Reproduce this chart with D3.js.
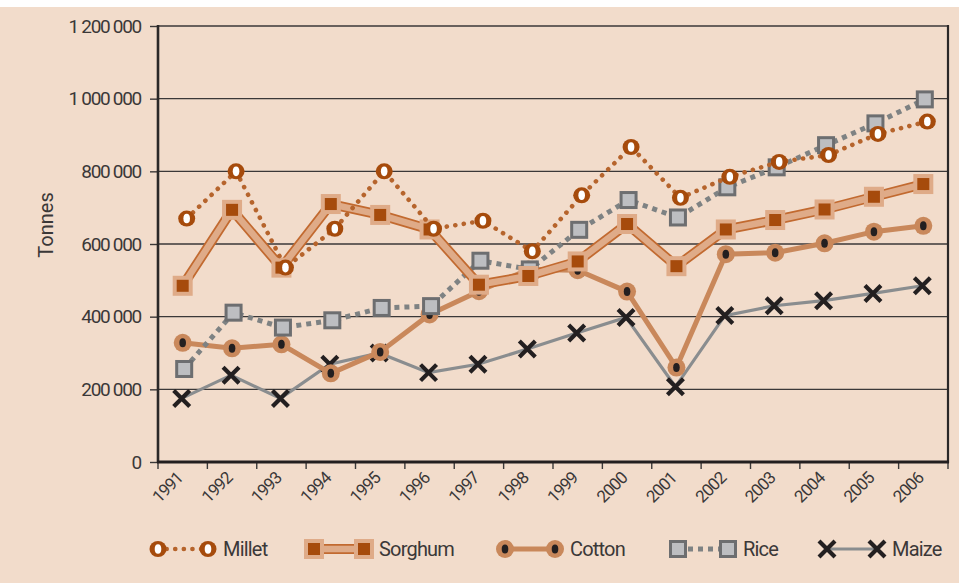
<!DOCTYPE html>
<html>
<head>
<meta charset="utf-8">
<script src="https://cdn.jsdelivr.net/npm/d3@7"></script>
<style>
  body{margin:0;background:#fff;}
  svg{display:block;}
  text{font-family:Roboto, "Liberation Sans", sans-serif;fill:#3b3838;}
</style>
</head>
<body>
<svg width="959" height="583"></svg>
<script>
// data (tonnes)
const years = ["1991","1992","1993","1994","1995","1996","1997","1998","1999","2000","2001","2002","2003","2004","2005","2006"];
const millet  = [670000, 800000, 535000, 642000, 800000, 642000, 664000, 580000, 734000, 867000, 727000, 785000, 826000, 845000, 903000, 937000];
const sorghum = [485000, 694000, 535000, 710000, 680000, 640000, 488000, 512000, 552000, 655000, 539000, 640000, 666000, 695000, 730000, 765000];
const cotton  = [328000, 313000, 324000, 244000, 303000, 406000, 470000, 530000, 528000, 469000, 260000, 572000, 576000, 602000, 634000, 650000];
const rice    = [256000, 411000, 370000, 390000, 424000, 429000, 554000, 530000, 639000, 721000, 673000, 756000, 811000, 872000, 932000, 998000];
const maize   = [175000, 239000, 175000, 269000, 300000, 246000, 269000, 311000, 355000, 398000, 207000, 403000, 430000, 444000, 464000, 485000];
const yTicks  = [0, 200000, 400000, 600000, 800000, 1000000, 1200000];
const seriesNames = ["Millet","Sorghum","Cotton","Rice","Maize"];

const svg = d3.select("svg");
const plotLeft = 158, plotRight = 948, plotTop = 26, plotBottom = 462;

svg.append("rect").attr("x",0).attr("y",7).attr("width",959).attr("height",576).attr("fill","#f2dccb");

const x = d3.scaleBand().domain(years).range([plotLeft,plotRight]);
const y = d3.scaleLinear().domain([0,1200000]).range([plotBottom,plotTop]);
const fmt = d3.formatLocale({decimal:".", thousands:" ", grouping:[3], currency:["",""]}).format(",d");

// grid
svg.append("g").selectAll("line").data(yTicks.slice(1)).enter().append("line")
  .attr("x1",plotLeft).attr("x2",plotRight)
  .attr("y1",d=>y(d)).attr("y2",d=>y(d))
  .attr("stroke","#3b3838").attr("stroke-width",1.4);

// y axis
const yAxis = svg.append("g").attr("transform",`translate(${plotLeft},0)`)
  .call(d3.axisLeft(y).tickValues(yTicks).tickFormat(fmt).tickSize(8).tickPadding(9));
yAxis.select(".domain").remove();
yAxis.selectAll(".tick line").attr("stroke","#3b3838").attr("stroke-width",1.4);
yAxis.selectAll(".tick text").style("font-size","19px").attr("fill","#3b3838").attr("letter-spacing","-1.3");

svg.append("line").attr("x1",plotLeft).attr("x2",plotLeft).attr("y1",plotTop-1).attr("y2",plotBottom+1)
  .attr("stroke","#2b2828").attr("stroke-width",2.6);
svg.append("line").attr("x1",plotRight).attr("x2",plotRight).attr("y1",plotTop-1).attr("y2",plotBottom+1)
  .attr("stroke","#2b2828").attr("stroke-width",2.2);

// x axis
const bounds = years.map(d=>x(d)).concat([plotRight]);
svg.append("g").selectAll("line").data(bounds).enter().append("line")
  .attr("x1",d=>d).attr("x2",d=>d).attr("y1",plotBottom).attr("y2",plotBottom+7)
  .attr("stroke","#3b3838").attr("stroke-width",1.4);
svg.append("line").attr("x1",plotLeft-1).attr("x2",plotRight+1).attr("y1",plotBottom).attr("y2",plotBottom)
  .attr("stroke","#231f20").attr("stroke-width",3);

svg.append("g").selectAll("text").data(years).enter().append("text")
  .attr("transform",d=>`translate(${x(d)+x.bandwidth()/2-3},${plotBottom+13}) rotate(-45)`)
  .attr("text-anchor","end").attr("dy","0.35em")
  .style("font-size","17px").attr("letter-spacing","-0.9")
  .text(d=>d);

svg.append("text").attr("transform","translate(53,225) rotate(-90)")
  .attr("text-anchor","middle").style("font-size","20px").text("Tonnes");

// markers
function drawMarker(g, type){
  if(type=="Millet"){
    g.append("ellipse").attr("rx",8.5).attr("ry",8).attr("fill","#a64b0c");
    g.append("ellipse").attr("rx",3.3).attr("ry",4.8).attr("fill","#ffffff");
  } else if(type=="Sorghum"){
    g.append("rect").attr("x",-10).attr("y",-10).attr("width",20).attr("height",20).attr("fill","#dfab88");
    g.append("rect").attr("x",-6).attr("y",-6).attr("width",12).attr("height",12).attr("fill","#a64b0c");
  } else if(type=="Cotton"){
    g.append("circle").attr("r",9).attr("fill","#c9885b");
    g.append("ellipse").attr("rx",3.3).attr("ry",4.5).attr("fill","#231f20");
  } else if(type=="Rice"){
    g.append("rect").attr("x",-7.5).attr("y",-7.5).attr("width",15).attr("height",15)
      .attr("fill","#bdbec1").attr("stroke","#6d6e70").attr("stroke-width",3);
  } else {
    g.append("path").attr("d","M-8,-8L8,8M-8,8L8,-8")
      .attr("stroke","#231f20").attr("stroke-width",4.2);
  }
}

function drawLine(g, type, pts){
  const line = d3.line().x(d=>d[0]).y(d=>d[1]);
  if(type=="Millet"){
    g.append("path").attr("d",line(pts)).attr("fill","none").attr("stroke","#b6642c")
      .attr("stroke-width",4.6).attr("stroke-linecap","round").attr("stroke-dasharray","0.1 8.5");
  } else if(type=="Sorghum"){
    g.append("path").attr("d",line(pts)).attr("fill","none").attr("stroke","#c26a30").attr("stroke-width",10);
    g.append("path").attr("d",line(pts)).attr("fill","none").attr("stroke","#dfab88").attr("stroke-width",6.5);
  } else if(type=="Cotton"){
    g.append("path").attr("d",line(pts)).attr("fill","none").attr("stroke","#c9885b").attr("stroke-width",5);
  } else if(type=="Rice"){
    g.append("path").attr("d",line(pts)).attr("fill","none").attr("stroke","#7e8283")
      .attr("stroke-width",5).attr("stroke-dasharray","5 5");
  } else {
    g.append("path").attr("d",line(pts)).attr("fill","none").attr("stroke","#8a8d8f").attr("stroke-width",3.2);
  }
}

const values = {Millet:millet, Sorghum:sorghum, Cotton:cotton, Rice:rice, Maize:maize};
const shift = {Millet:4, Sorghum:0, Cotton:0, Rice:1.5, Maize:-1};
const drawOrder = ["Maize","Cotton","Rice","Sorghum","Millet"];

drawOrder.forEach(function(name){
  const g = svg.append("g");
  const pts = years.map((yr,i)=>[x(yr)+x.bandwidth()/2+shift[name], y(values[name][i])]);
  drawLine(g, name, pts);
  pts.forEach(function(p){
    drawMarker(g.append("g").attr("transform",`translate(${p[0]},${p[1]})`), name);
  });
});

// legend
const legendX = [158, 314, 505, 678, 827];
const legY = 549;
seriesNames.forEach(function(name,i){
  const g = svg.append("g");
  const x0 = legendX[i], x1 = x0+50;
  drawLine(g, name, [[x0,legY],[x1,legY]]);
  drawMarker(g.append("g").attr("transform",`translate(${x0},${legY})`), name);
  drawMarker(g.append("g").attr("transform",`translate(${x1},${legY})`), name);
  g.append("text").attr("x",x1+15).attr("y",legY).attr("dy","0.35em")
    .style("font-size","20px").attr("letter-spacing","-0.8").text(name);
});
</script>
</body>
</html>
